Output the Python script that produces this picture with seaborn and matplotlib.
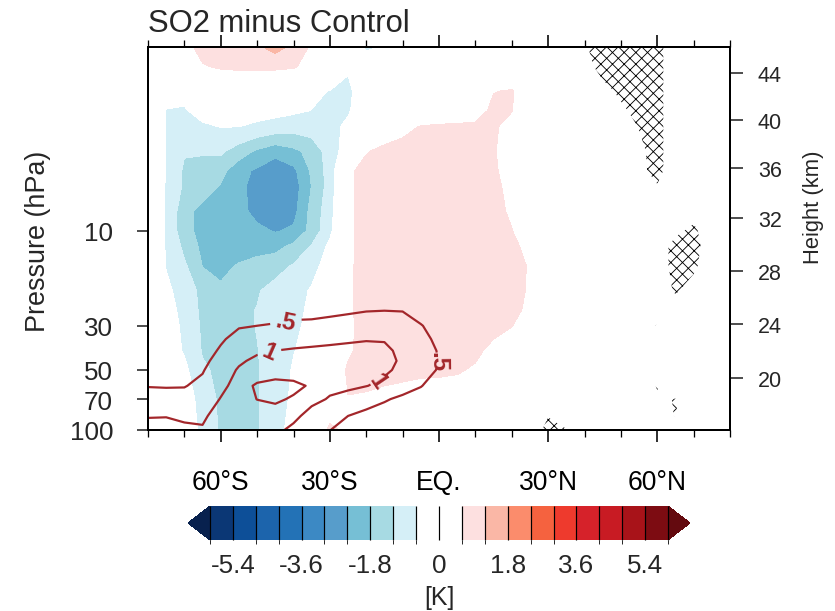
import numpy as np
import matplotlib
matplotlib.use("Agg")
import matplotlib.pyplot as plt
import seaborn as sns
from matplotlib.colors import ListedColormap, BoundaryNorm
from matplotlib.ticker import MultipleLocator, NullLocator
from matplotlib.patches import PathPatch

# ---------------------------------------------------------------- data
# filled field: temperature difference [K] on (pressure, latitude)
FILL_LAT = [-80, -75, -70, -65, -60, -55, -50, -45, -40, -35, -30, -25,
            -20, -15, -10, -5, 0, 5, 10, 15, 20, 25, 30]
FILL_P = [1.2, 1.5, 2, 2.5, 3, 4, 5, 6, 8, 10, 12, 15, 20, 25, 30, 40, 50, 70, 100]
FILL_T = [
    [0.0, 0.1, 0.4, 0.8, 0.9, 0.95, 1.1, 1.4, 1.05, 0.5, 0.1, -0.2, -0.7, -0.55, -0.2, 0, 0, 0, 0, 0, 0, 0, 0],
    [0, 0.1, 0.3, 0.55, 0.7, 0.75, 0.75, 0.75, 0.68, 0.3, 0.0, -0.55, -0.2, 0, 0, 0, 0, 0, 0, 0, 0, 0, 0],
    [-0.2, -0.4, -0.45, -0.35, -0.3, -0.3, -0.35, -0.4, -0.45, -0.5, -0.62, -0.7, -0.3, 0, 0, 0, 0, 0, 0.2, 0.58, 0.65, 0.2, 0],
    [-0.2, -0.62, -0.65, -0.4, -0.3, -0.3, -0.35, -0.4, -0.5, -0.61, -0.75, -0.65, -0.3, -0.1, 0, 0, 0, 0.1, 0.3, 0.75, 0.62, 0.1, 0],
    [-0.2, -0.62, -0.75, -0.68, -0.58, -0.59, -0.72, -0.85, -0.95, -0.9, -0.75, -0.5, -0.2, 0.1, 0.45, 0.62, 0.7, 0.72, 0.72, 0.68, 0.4, 0.1, 0],
    [-0.2, -0.62, -1.15, -1.15, -1.1, -1.5, -1.9, -2.2, -1.95, -1.6, -0.9, -0.3, 0.55, 0.8, 0.8, 0.8, 0.8, 0.8, 0.78, 0.65, 0.3, 0.05, 0],
    [-0.2, -0.62, -1.3, -1.4, -1.6, -2.2, -2.5, -2.8, -2.55, -1.7, -0.95, 0.45, 0.85, 0.85, 0.85, 0.85, 0.85, 0.85, 0.8, 0.7, 0.3, 0.05, 0],
    [-0.2, -0.63, -1.3, -1.5, -1.85, -2.2, -2.7, -2.9, -2.7, -1.78, -0.95, 0.45, 0.85, 0.85, 0.85, 0.85, 0.85, 0.85, 0.8, 0.72, 0.45, 0.05, 0],
    [-0.2, -0.63, -1.6, -2.0, -2.0, -2.2, -2.6, -2.9, -2.6, -1.6, -0.85, 0.45, 0.85, 0.85, 0.85, 0.85, 0.85, 0.85, 0.85, 0.8, 0.5, 0.05, 0],
    [-0.2, -0.63, -1.6, -2.0, -2.05, -2.15, -2.25, -2.45, -2.3, -1.6, -0.75, 0.45, 0.85, 0.85, 0.85, 0.85, 0.85, 0.85, 0.85, 0.85, 0.62, 0.1, 0],
    [-0.2, -0.63, -1.35, -1.95, -2.0, -2.05, -2.05, -2.0, -1.65, -1.15, -0.45, 0.45, 0.85, 0.85, 0.85, 0.85, 0.85, 0.85, 0.85, 0.85, 0.75, 0.4, 0],
    [-0.2, -0.62, -1.1, -1.82, -1.95, -1.75, -1.55, -1.4, -1.15, -0.75, -0.4, 0.48, 0.85, 0.85, 0.85, 0.85, 0.85, 0.85, 0.85, 0.85, 0.8, 0.55, 0],
    [-0.1, -0.5, -0.8, -1.4, -1.7, -1.5, -1.25, -1.0, -0.8, -0.55, -0.2, 0.5, 0.85, 0.85, 0.85, 0.85, 0.85, 0.85, 0.85, 0.85, 0.75, 0.55, 0],
    [0, -0.4, -0.75, -1.35, -1.5, -1.35, -1.18, -0.95, -0.75, -0.5, -0.2, 0.5, 0.85, 0.85, 0.85, 0.85, 0.85, 0.85, 0.85, 0.85, 0.72, 0.5, 0],
    [0, -0.35, -0.7, -1.3, -1.45, -1.35, -1.18, -0.95, -0.72, -0.45, -0.2, 0.45, 0.85, 0.85, 0.85, 0.85, 0.85, 0.85, 0.85, 0.8, 0.62, 0.2, 0],
    [0, -0.3, -0.65, -1.25, -1.4, -1.35, -1.22, -0.95, -0.62, -0.4, -0.1, 0.5, 0.85, 0.85, 0.85, 0.85, 0.85, 0.85, 0.75, 0.4, 0.1, 0, 0],
    [0, -0.25, -0.45, -1.1, -1.35, -1.35, -1.25, -0.9, -0.55, -0.3, 0.0, 0.7, 0.85, 0.8, 0.75, 0.7, 0.7, 0.68, 0.5, 0.1, 0, 0, 0],
    [0, -0.2, -0.4, -0.75, -1.35, -1.35, -1.25, -0.85, -0.5, -0.2, 0.1, 0.58, 0.5, 0.4, 0.35, 0.3, 0.25, 0.1, 0, 0, 0, 0, 0],
    [0, -0.15, -0.35, -0.7, -1.3, -1.35, -1.25, -0.8, -0.4, -0.1, 0.75, 0.45, 0.1, 0, 0, 0, 0, 0, 0, 0, 0, 0, 0],
]

# contour-line field (lower stratosphere)
LINE_LAT = [-80, -75, -70, -65, -60, -55, -50, -45, -40, -35, -30, -25,
            -20, -15, -10, -5, 0, 5, 10]
LINE_P = [20, 25, 30, 35, 40, 45, 50, 60, 70, 85, 100]
LINE_T = [
    [0.1, 0.1, 0.1, 0.1, 0.12, 0.15, 0.2, 0.25, 0.25, 0.25, 0.25, 0.3, 0.3, 0.3, 0.3, 0.2, 0.1, 0.1, 0.05],
    [0.1, 0.12, 0.12, 0.13, 0.2, 0.3, 0.35, 0.4, 0.42, 0.42, 0.43, 0.45, 0.48, 0.49, 0.48, 0.35, 0.2, 0.1, 0.05],
    [0.15, 0.15, 0.15, 0.18, 0.3, 0.47, 0.5, 0.52, 0.55, 0.56, 0.6, 0.65, 0.7, 0.72, 0.7, 0.52, 0.35, 0.1, 0.05],
    [0.2, 0.2, 0.2, 0.25, 0.45, 0.63, 0.7, 0.75, 0.8, 0.85, 0.9, 0.95, 0.98, 0.98, 0.85, 0.63, 0.4, 0.1, 0.05],
    [0.25, 0.25, 0.25, 0.32, 0.55, 0.78, 0.93, 1.0, 1.05, 1.08, 1.1, 1.1, 1.1, 1.06, 0.93, 0.68, 0.47, 0.1, 0.05],
    [0.3, 0.3, 0.3, 0.4, 0.65, 0.93, 1.1, 1.15, 1.15, 1.15, 1.15, 1.15, 1.12, 1.08, 0.96, 0.68, 0.49, 0.1, 0.05],
    [0.35, 0.35, 0.36, 0.47, 0.75, 1.05, 1.2, 1.2, 1.2, 1.2, 1.15, 1.12, 1.1, 1.05, 0.93, 0.65, 0.47, 0.1, 0.05],
    [0.48, 0.47, 0.48, 0.6, 0.9, 1.15, 0.95, 0.85, 0.9, 1.05, 1.08, 1.05, 1.01, 0.92, 0.7, 0.52, 0.3, 0.1, 0.05],
    [0.7, 0.68, 0.65, 0.75, 1.02, 1.25, 0.99, 0.93, 1.05, 1.1, 0.97, 0.9, 0.72, 0.55, 0.4, 0.3, 0.2, 0.1, 0.05],
    [0.97, 0.98, 0.92, 0.92, 1.2, 1.35, 1.3, 1.2, 1.1, 0.85, 0.7, 0.5, 0.35, 0.25, 0.2, 0.15, 0.1, 0.1, 0.05],
    [1.2, 1.2, 1.1, 1.05, 1.3, 1.35, 1.4, 1.1, 0.9, 0.6, 0.51, 0.3, 0.25, 0.15, 0.1, 0.1, 0.05, 0.1, 0.05],
]
LINE_LEVELS = [0.5, 1.0]

# significance score (hatched where > 0.5)
HATCH_LAT = [25, 30, 35, 40, 45, 50, 55, 60, 65, 70, 75, 80]
HATCH_P = [1.2, 1.5, 2, 2.5, 3, 4, 5, 6, 8, 10, 12, 15, 20, 25, 30, 40, 50, 60, 70, 85, 100]
HATCH_S = [
    [-.5, -.5, -.5, 0.375, 1, 1, 1, 1, -.5, -.5, -.5, -.5],
    [-.5, -.5, -.5, 0, 1, 1, 1, 1, -.5, -.5, -.5, -.5],
    [-.5, -.5, -.5, -.5, 0, 0.8, 1, 1, -.5, -.5, -.5, -.5],
    [-.5, -.5, -.5, -.5, -.5, 0.2, 1, 1, -.5, -.5, -.5, -.5],
    [-.5, -.5, -.5, -.5, -.5, 0, 0.55, 1, -.5, -.5, -.5, -.5],
    [-.5, -.5, -.5, -.5, -.5, -.5, 0.2, 1, -.5, -.5, -.5, -.5],
    [-.5, -.5, -.5, -.5, -.5, -.5, 0.1, 1, -.5, -.5, -.5, -.5],
    [-.5, -.5, -.5, -.5, -.5, -.5, -.5, 0.4, -.5, -.5, -.5, -.5],
    [-.5, -.5, -.5, -.5, -.5, -.5, -.5, -.5, -.5, 0, -.5, -.5],
    [-.5, -.5, -.5, -.5, -.5, -.5, -.5, -.5, 0.2, 0.8, -.5, -.5],
    [-.5, -.5, -.5, -.5, -.5, -.5, -.5, -0.3, 1, 1, -0.3, -.5],
    [-.5, -.5, -.5, -.5, -.5, -.5, -.5, -0.3, 1, 0.8, -.5, -.5],
    [-.5, -.5, -.5, -.5, -.5, -.5, -.5, -.5, 0.7, -0.2, -.5, -.5],
    [-.5, -.5, -.5, -.5, -.5, -.5, -.5, -.5, -.5, -.5, -.5, -.5],
    [-.5, -.5, -.5, -.5, -.5, -.5, -0.2, 0.6, -.5, -.5, -.5, -.5],
    [-.5, -.5, -.5, -.5, -.5, -.5, -.5, -.5, -.5, -.5, -.5, -.5],
    [-.5, -.5, -.5, -.5, -.5, -.5, -.5, -.5, -.5, -.5, -.5, -.5],
    [-.5, -.5, -.5, -.5, -.5, -.5, -.5, 0.6, -.5, -.5, -.5, -.5],
    [-.5, -.5, -.5, -.5, -.5, -.5, -.5, 0.3, 0.55, -.5, -.5, -.5],
    [-.5, 0.45, -.5, -.5, -.5, -.5, -.5, -.5, 0.6, -.5, -.5, -.5],
    [-.5, 1, 0.6, -.5, -.5, -.5, -.5, -.5, -.5, -.5, -.5, -.5],
]

LEVELS = [-6.0, -5.4, -4.8, -4.2, -3.6, -3.0, -2.4, -1.8, -1.2, -0.6, 0.0,
          0.6, 1.2, 1.8, 2.4, 3.0, 3.6, 4.2, 4.8, 5.4, 6.0]
BOX_COLORS = ["#0b3775", "#0d4f98", "#1c64ac", "#2372b6", "#3c89c4", "#579dcb",
              "#76bfd5", "#a7dae3", "#d5eff7", "#ffffff", "#ffffff", "#fde0e0",
              "#fab7a6", "#fb8c6c", "#f5623f", "#ee3a2d", "#d6222a", "#c81b23",
              "#a81319", "#7d0c12"]
UNDER_COLOR = "#08214e"
OVER_COLOR = "#640a0f"
LINE_COLOR = "#a3262a"

X_TICKS = [-60, -30, 0, 30, 60]
X_LABELS = ["60°S", "30°S", "EQ.", "30°N", "60°N"]
P_TICKS = [10, 30, 50, 70, 100]
HEIGHT_KM = [20, 24, 28, 32, 36, 40, 44]
CBAR_TICKS = [-5.4, -3.6, -1.8, 0, 1.8, 3.6, 5.4]
TITLE = "SO2 minus Control"

# ---------------------------------------------------------------- style
DPI = 70
W, H = 835, 612


def pt(px):
    return px * 72.0 / DPI


sns.set_theme(style="ticks")
plt.rcParams["font.family"] = ["Liberation Sans", "DejaVu Sans"]
plt.rcParams["axes.unicode_minus"] = False
plt.rcParams["hatch.linewidth"] = 0.9
plt.rcParams["hatch.color"] = "black"


def std_atm_pressure(z_km):
    """US standard atmosphere pressure [hPa] for a height in km (tick placement)."""
    g, R = 9.80665, 287.053
    z = z_km * 1000.0
    if z <= 20000:
        return 54.7489 * np.exp(-g * (z - 20000) / (R * 216.65))
    if z <= 32000:
        T = 216.65 + 0.001 * (z - 20000)
        return 54.7489 * (216.65 / T) ** (g / (R * 0.001))
    T = 228.65 + 0.0028 * (z - 32000)
    return 8.68019 * (228.65 / T) ** (g / (R * 0.0028))


fig = plt.figure(figsize=(W / DPI, H / DPI), dpi=DPI)
ax = fig.add_axes([148 / W, 1 - 431 / H, (730 - 148) / W, (431 - 48) / H])

cmap = ListedColormap(BOX_COLORS)
cmap.set_under(UNDER_COLOR)
cmap.set_over(OVER_COLOR)
norm = BoundaryNorm(LEVELS, cmap.N)

cf = ax.contourf(FILL_LAT, FILL_P, np.array(FILL_T), levels=LEVELS, cmap=cmap,
                 norm=norm, extend="both")

# significance hatching: regions come from a contourf of the score field
hs = ax.contourf(HATCH_LAT, HATCH_P, np.array(HATCH_S), levels=[0.5, 5],
                 colors="none")
for path in hs.get_paths():
    if len(path.vertices):
        ax.add_patch(PathPatch(path, facecolor="none", edgecolor="black",
                               linewidth=0, hatch="xx", transform=ax.transData,
                               zorder=2))

cs = ax.contour(LINE_LAT, LINE_P, np.array(LINE_T), levels=LINE_LEVELS,
                colors=LINE_COLOR, linewidths=pt(2.2), zorder=3)
clabels = ax.clabel(cs, inline=True, inline_spacing=6,
                    fmt=lambda v: ("%g" % v).lstrip("0"), fontsize=pt(24),
                    manual=[(-42, 29), (-47, 40), (-16, 57), (-0.3, 45)])
for t in clabels:
    t.set_fontweight("bold")

ax.set_yscale("log")
ax.set_xlim(-80, 80)
ax.set_ylim(100, 1.2)

ax.set_xticks(X_TICKS)
ax.set_xticklabels(X_LABELS)
ax.xaxis.set_minor_locator(MultipleLocator(10))
ax.tick_params(axis="x", which="both", top=True, bottom=True, direction="out",
               labeltop=False, colors="black")
ax.tick_params(axis="x", which="major", length=pt(12), width=pt(1.6),
               pad=pt(27), labelsize=pt(26.5))
ax.tick_params(axis="x", which="minor", length=pt(7), width=pt(1.3))

ax.set_yticks(P_TICKS)
ax.set_yticklabels([str(p) for p in P_TICKS])
ax.yaxis.set_minor_locator(NullLocator())
ax.tick_params(axis="y", which="major", left=True, right=False, direction="out",
               length=pt(11), width=pt(1.6), pad=pt(24), labelsize=pt(26))

for sp in ax.spines.values():
    sp.set_linewidth(pt(2))
    sp.set_color("black")

ax2 = ax.twinx()
ax2.set_yscale("log")
ax2.set_ylim(100, 1.2)
ax2.set_yticks([std_atm_pressure(h) for h in HEIGHT_KM])
ax2.set_yticklabels([str(h) for h in HEIGHT_KM])
ax2.yaxis.set_minor_locator(NullLocator())
ax2.tick_params(axis="y", which="major", direction="out", length=pt(13),
                width=pt(1.6), pad=pt(15), labelsize=pt(21.5))
for sp in ax2.spines.values():
    sp.set_linewidth(pt(2))
    sp.set_color("black")

fig.text(148 / W, 1 - 32 / H, TITLE, ha="left", va="baseline", fontsize=pt(31))
fig.text(38 / W, 1 - 241 / H, "Pressure (hPa)", rotation=90, ha="center",
         va="center", fontsize=pt(27))
fig.text(813 / W, 1 - 207 / H, "Height (km)", rotation=90, ha="center",
         va="center", fontsize=pt(22))

cax = fig.add_axes([188 / W, 1 - 541 / H, 502 / W, 34 / H])
cb = fig.colorbar(cf, cax=cax, orientation="horizontal", ticks=CBAR_TICKS,
                  extendfrac=0.048, drawedges=True)
cb.outline.set_visible(False)
cb.dividers.set_color("black")
cb.dividers.set_linewidth(pt(1.2))
cax.set_xticklabels(["%g" % t for t in CBAR_TICKS])
cax.tick_params(length=0, pad=pt(13), labelsize=pt(26))
cb.set_label("[K]", fontsize=pt(25), labelpad=pt(8))

fig.savefig("out.png", dpi=DPI)
